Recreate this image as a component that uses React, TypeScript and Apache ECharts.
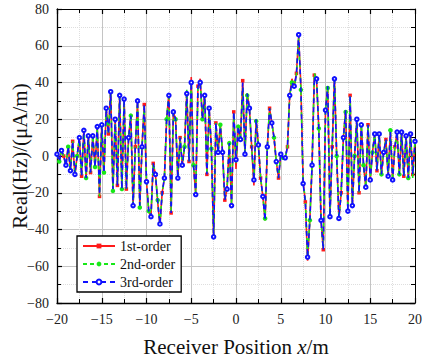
import React, { useEffect, useRef } from 'react';
import * as echarts from 'echarts';

// Receiver positions: sampled from -20 m to 20 m every 0.25 m
const X_START = -20;
const X_STEP = 0.25;

const seriesNames = ['1st-order', '2nd-order', '3rd-order'];

const firstOrder = [
  1, -3, 3, 0, -5.5, 5.5, -8, 8, -10.5, 0, 10, -11, 14.5, -12.7, 11, -9, 11, -6, 16, -22, 17, -9, 26, 12, 36, -19, 20, -16, 33, -18, 31, -18, 10, 22, -27, 5, 30, -27, 5, 28, -14,
  -30, -33, -4, -10, -25, -38, -20, -12, 20, 34, -31, 24, 20, -12, 10, -5, 5, 35, -3, 43, -5, -21, 38, 42, 20, 34, -10, 26, 4, -45, 18, 2, 17, 2, -24, -18, 7, -27, 24, -7,
  16, 9, 41, 1, 34, 26, 5, -16, 20, 6, -12, -22, -35, 5, 26, 18, 10, -3, -12, 1, -1, -1, 5, 33, 42, 38, 45, 65, 38, -14, -25, -57, -35, -5, 44, 42, 15, -35, -51, 25,
  38, -33, 5, 43, 0, -34, -20, 10, 25, -30, 33, -27, 0, 20, -20, 17, -5, -17, 17, -13, 2, 12, -8, 12, -10, 2, 9, -11, 13, -13, 5, 13, -10, 13, -11, 11, -12, 12, -10, 8,
];

const secondOrder = [
  1, -3, 3, 0, -5, 5, -8, 8, -10, 0, 10, -11, 14, -12, 11, -9, 11, -6, 15, -22, 17, -9, 25, 12, 35, -19, 20, -16, 33, -18, 30, -18, 10, 22, -28, 5, 29, -28, 5, 27, -14,
  -30, -33, -4, -10, -24, -38, -20, -12, 20, 34, -30, 23, 20, -12, 10, -5, 5, 36, -3, 40, -5, -20, 37, 41, 20, 33, -10, 25, 4, -44, 18, 2, 17, 2, -23, -18, 7, -26, 23, -4,
  16, 9, 37, 1, 33, 26, 5, -13, 19, 6, -12, -22, -34, 5, 26, 18, 10, -3, -12, 1, -1, -1, 5, 33, 40, 37, 44, 64, 36, -14, -24, -55, -35, -5, 45, 42, 15, -35, -50, 25,
  37, -32, 5, 43, 0, -34, -20, 10, 24, -30, 33, -26, 0, 20, -20, 17, -5, -17, 17, -13, 2, 13, -8, 12, -10, 2, 9, -11, 14, -13, 5, 13, -10, 14, -11, 11, -12, 13, -12, 8,
];

const thirdOrder = [
  1, -3, 3, 0, -5, 5, -8, 8, -10, 0, 10, -11, 14, -12, 11, -9, 11, -6, 16, -21, 17, -9, 26, 12, 35, -18, 20, -16, 33, -18, 31, -18, 10, 22, -27, 5, 30, -27, 5, 28, -14,
  -30, -33, -4, -10, -25, -37, -20, -12, 20, 33, -31, 24, 20, -12, 10, -5, 5, 34, -3, 40, -5, -21, 38, 40, 20, 33, -10, 26, 4, -44, 18, 2, 16, 2, -24, -18, 7, -27, 24, -2,
  16, 9, 40, 1, 34, 26, 5, -13, 20, 6, -12, -22, -35, 5, 26, 18, 10, -3, -12, 1, -1, -1, 5, 33, 40, 38, 44, 66, 37, -15, -25, -55, -35, -5, 42, 42, 15, -35, -51, 25,
  38, -33, 5, 42, 0, -34, -20, 10, 25, -30, 33, -27, 0, 20, -20, 17, -5, -17, 17, -13, 2, 12, -8, 12, -10, 2, 9, -11, 13, -13, 5, 13, -10, 13, -11, 11, -12, 12, -10, 8,
];

const FONT = '"Liberation Serif", "Times New Roman", serif';

function toPairs(values: number[]) {
  return values.map((v, i) => [X_START + i * X_STEP, v]);
}

const minusFmt = (v: number) => (v < 0 ? '\u2212' + Math.abs(v) : String(v));

export default function App() {
  const ref = useRef<HTMLDivElement>(null);

  useEffect(() => {
    const chart = echarts.init(ref.current!, null, { renderer: 'svg' });

    const axisCommon = {
      type: 'value' as const,
      axisLine: { show: true, onZero: false, lineStyle: { color: '#000', width: 1.3 } },
      axisTick: { show: true, inside: true, length: 5, lineStyle: { color: '#000', width: 1.2 } },
      minorTick: { show: true, splitNumber: 2, length: 4, lineStyle: { color: '#000', width: 1 } },
    };

    const option: any = {
      animation: false,
      backgroundColor: '#fff',
      grid: { left: 57, right: 7, top: 9, bottom: 59, containLabel: false, outerBoundsMode: 'none' },
      legend: {
        orient: 'vertical',
        left: 77,
        top: 236,
        data: seriesNames,
        padding: [3, 6, 3, 5],
        itemGap: 4,
        itemWidth: 32,
        itemHeight: 6,
        borderColor: '#000',
        borderWidth: 1.3,
        borderRadius: 0,
        backgroundColor: '#fff',
        textStyle: { fontFamily: FONT, fontSize: 14, color: '#111', padding: [0, 0, 0, 0] },
      },
      xAxis: [
        {
          ...axisCommon,
          position: 'bottom',
          min: -20,
          max: 20,
          interval: 5,
          axisLabel: { margin: 9, fontFamily: FONT, fontSize: 14, color: '#222', formatter: minusFmt },
          splitLine: { show: true, lineStyle: { color: '#c4c4c4', width: 1 } },
          minorSplitLine: { show: true, lineStyle: { color: '#dedede', width: 1, type: 'dotted' } },
          name: '{a|Receiver Position }{b|x}{a|/m}',
          nameLocation: 'middle',
          nameGap: 33,
          nameMoveOverlap: false,
          nameTextStyle: {
            rich: {
              a: { fontFamily: FONT, fontSize: 21, color: '#111' },
              b: { fontFamily: FONT, fontSize: 21, fontStyle: 'italic', color: '#111' },
            },
          },
        },
        {
          ...axisCommon,
          position: 'top',
          min: -20,
          max: 20,
          interval: 5,
          axisLine: { show: true, onZero: false, lineStyle: { color: '#000', width: 1 } },
          axisLabel: { show: false },
          splitLine: { show: false },
        },
      ],
      yAxis: [
        {
          ...axisCommon,
          position: 'left',
          min: -80,
          max: 80,
          interval: 20,
          axisLabel: { margin: 8, fontFamily: FONT, fontSize: 14, color: '#222', formatter: minusFmt },
          splitLine: { show: true, lineStyle: { color: '#c4c4c4', width: 1 } },
          minorSplitLine: { show: true, lineStyle: { color: '#dedede', width: 1, type: 'dotted' } },
          name: 'Real(Hz)/(\u03bcA/m)',
          nameLocation: 'middle',
          nameGap: 27,
          nameMoveOverlap: false,
          nameTextStyle: { fontFamily: FONT, fontSize: 21, color: '#111' },
        },
        {
          ...axisCommon,
          position: 'right',
          min: -80,
          max: 80,
          interval: 20,
          axisLine: { show: true, onZero: false, lineStyle: { color: '#000', width: 1 } },
          axisLabel: { show: false },
          splitLine: { show: false },
        },
      ],
      series: [
        {
          name: seriesNames[0],
          type: 'line',
          data: toPairs(firstOrder),
          symbol: 'rect',
          symbolSize: (_v: any, p: any) => (p.dataIndex % 4 === 3 ? 3.5 : 0),
          showAllSymbol: true,
          lineStyle: { color: '#ff1a1a', width: 1.6, type: 'solid' },
          itemStyle: { color: '#ff1a1a' },
          z: 2,
        },
        {
          name: seriesNames[1],
          type: 'line',
          data: toPairs(secondOrder),
          symbol: 'circle',
          symbolSize: (_v: any, p: any) => (p.dataIndex % 4 === 1 ? 4.5 : 0),
          showAllSymbol: true,
          lineStyle: { color: '#17e817', width: 1.6, type: [4, 3] },
          itemStyle: { color: '#17e817' },
          z: 3,
        },
        {
          name: seriesNames[2],
          type: 'line',
          data: toPairs(thirdOrder),
          symbol: 'emptyCircle',
          symbolSize: (_v: any, p: any) => (p.dataIndex % 2 === 0 ? 3.5 : 0),
          showAllSymbol: true,
          lineStyle: { color: '#1010ff', width: 1.6, type: [5, 4] },
          itemStyle: { color: '#1010ff', borderWidth: 1.1 },
          z: 4,
        },
      ],
    };

    chart.setOption(option);
    return () => chart.dispose();
  }, []);

  return <div ref={ref} style={{ position: 'fixed', left: 0, top: 0, width: 422, height: 362 }} />;
}
